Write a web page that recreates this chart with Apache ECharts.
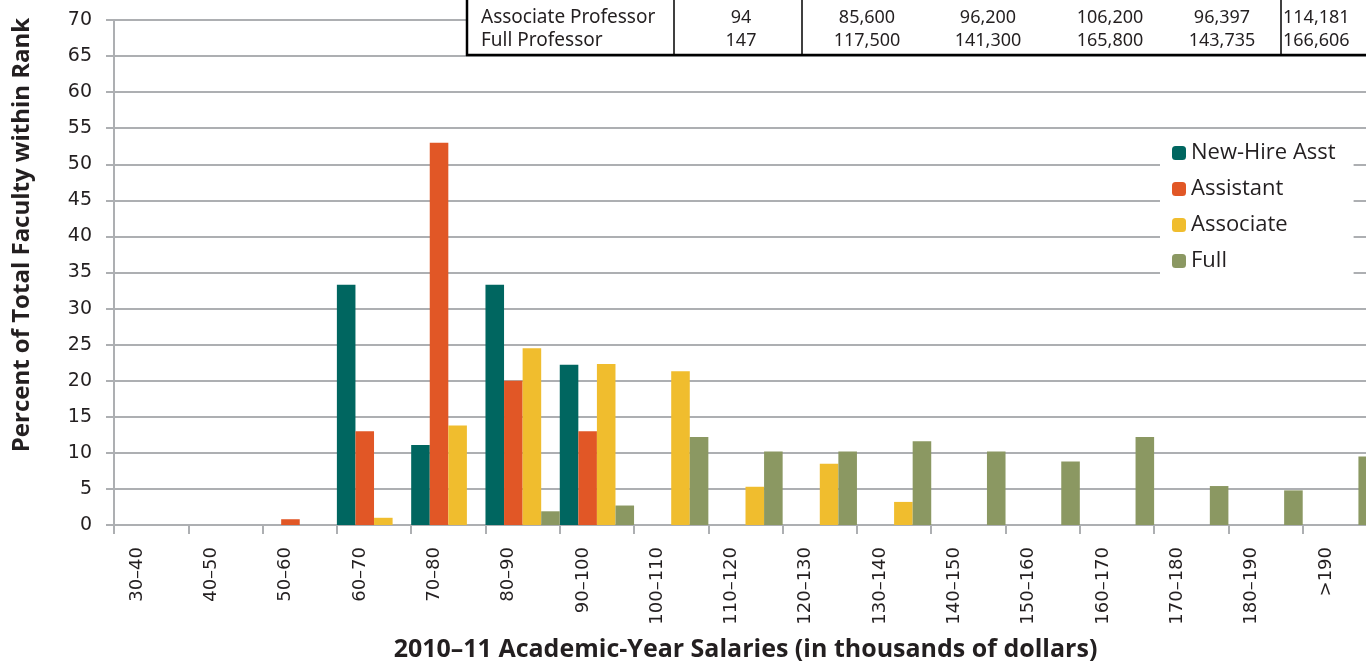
<!DOCTYPE html>
<html>
<head>
<meta charset="utf-8">
<title>Faculty salary distribution</title>
<script src="https://cdn.jsdelivr.net/npm/echarts@6/dist/echarts.min.js"></script>
<style>
  html, body { margin: 0; padding: 0; background: #fff; }
  #chart { width: 1366px; height: 666px; }
</style>
</head>
<body>
<div id="chart"></div>
<script>
  // salary bands (thousands of dollars)
  var categories = ['30–40', '40–50', '50–60', '60–70', '70–80', '80–90', '90–100', '100–110', '110–120',
    '120–130', '130–140', '140–150', '150–160', '160–170', '170–180', '180–190', '>190'];

  // percent of faculty within rank (null = no bar)
  var newHireAsst = [null, null, null, 33.3, 11.1, 33.3, 22.2, null, null, null, null, null, null, null, null, null, null];
  var assistant = [null, null, 0.8, 13.0, 53.0, 20.0, 13.0, null, null, null, null, null, null, null, null, null, null];
  var associate = [null, null, null, 1.0, 13.8, 24.5, 22.3, 21.3, 5.3, 8.5, 3.2, null, null, null, null, null, null];
  var full = [null, null, null, null, null, 1.9, 2.7, 12.2, 10.2, 10.2, 11.6, 10.2, 8.8, 12.2, 5.4, 4.8, 9.5];

  var seriesNames = ['New-Hire Asst', 'Assistant', 'Associate', 'Full'];
  var yTicks = [0, 70, 5]; // min, max, interval

  // visible part of the salary table at the top
  var assocRow = ['Associate Professor', '94', '85,600', '96,200', '106,200', '96,397', '114,181'];
  var fullRow = ['Full Professor', '147', '117,500', '141,300', '165,800', '143,735', '166,606'];

  var colors = ['#006660', '#e15726', '#f0bd2e', '#8b9862'];
  var gridGrey = '#adafb2';
  var textDark = '#231f20';

  var chart = echarts.init(document.getElementById('chart'));

  // table layout
  var colX = [481, 741, 867, 988, 1110, 1222, 1283];
  var colAlign = ['left', 'center', 'center', 'center', 'center', 'center', 'left'];
  var rowY = [18, 41];

  function tableText (row, y) {
    return row.map(function (txt, i) {
      return {
        type: 'text',
        z: 101,
        x: colX[i],
        y: y,
        style: {
          text: txt,
          fill: textDark,
          font: (i === 0 ? '19px' : '18px') + ' "Noto Sans"',
          align: colAlign[i],
          verticalAlign: 'middle'
        }
      };
    });
  }

  var tableGraphics = [
    {type: 'rect', z: 100, shape: {x: 467, y: -5, width: 920, height: 60}, style: {fill: '#fff'}},
    {type: 'line', z: 102, shape: {x1: 467, y1: -2, x2: 467, y2: 56}, style: {stroke: '#000', lineWidth: 2.5}},
    {type: 'line', z: 102, shape: {x1: 466, y1: 55, x2: 1370, y2: 55}, style: {stroke: '#000', lineWidth: 2.5}},
    {type: 'line', z: 102, shape: {x1: 674, y1: -2, x2: 674, y2: 55}, style: {stroke: '#000', lineWidth: 1.5}},
    {type: 'line', z: 102, shape: {x1: 802, y1: -2, x2: 802, y2: 55}, style: {stroke: '#000', lineWidth: 1.5}},
    {type: 'line', z: 102, shape: {x1: 1281, y1: -2, x2: 1281, y2: 55}, style: {stroke: '#000', lineWidth: 1.5}}
  ].concat(tableText(assocRow, rowY[0]), tableText(fullRow, rowY[1]));

  tableGraphics.push({
    type: 'text',
    z: 50,
    x: 22,
    y: 235,
    rotation: Math.PI / 2,
    style: {
      text: 'Percent of Total Faculty within Rank',
      fill: textDark,
      font: 'bold 24px "Open Sans"',
      align: 'center',
      verticalAlign: 'middle'
    }
  });

  var seriesData = [newHireAsst, assistant, associate, full];

  chart.setOption({
    animation: false,
    backgroundColor: '#fff',
    color: colors,
    grid: {
      left: 114,
      right: -11,
      top: 20,
      bottom: 141,
      containLabel: false,
      outerBoundsMode: 'none'
    },
    legend: {
      orient: 'vertical',
      left: 1160,
      top: 133,
      itemWidth: 14,
      itemHeight: 14,
      itemGap: 14,
      padding: [9, 18, 9, 12],
      backgroundColor: '#fff',
      z: 20,
      textStyle: {
        color: textDark,
        fontSize: 22,
        fontFamily: 'Open Sans'
      },
      data: seriesNames
    },
    xAxis: {
      type: 'category',
      data: categories,
      name: '2010–11 Academic-Year Salaries (in thousands of dollars)',
      nameLocation: 'middle',
      nameGap: 112,
      nameTextStyle: {
        color: textDark,
        fontSize: 25,
        fontWeight: 'bold',
        fontFamily: 'Open Sans'
      },
      axisLine: {lineStyle: {color: gridGrey, width: 2}},
      axisTick: {show: true, length: 9, lineStyle: {color: gridGrey, width: 2}},
      axisLabel: {
        interval: 0,
        rotate: 90,
        margin: 22,
        color: textDark,
        fontSize: 18,
        fontFamily: 'DejaVu Sans',
        verticalAlign: 'bottom',
        lineHeight: 28
      }
    },
    yAxis: {
      type: 'value',
      min: yTicks[0],
      max: yTicks[1],
      interval: yTicks[2],
      axisLine: {show: true, lineStyle: {color: gridGrey, width: 2}},
      axisTick: {show: true, length: 8, lineStyle: {color: gridGrey, width: 2}},
      axisLabel: {
        margin: 22,
        color: textDark,
        fontSize: 19,
        fontFamily: 'DejaVu Sans'
      },
      splitLine: {lineStyle: {color: gridGrey, width: 2}}
    },
    series: seriesNames.map(function (name, i) {
      return {
        name: name,
        type: 'bar',
        data: seriesData[i],
        barGap: '0%',
        barCategoryGap: '0%',
        z: 5
      };
    }),
    graphic: tableGraphics
  });
</script>
</body>
</html>
